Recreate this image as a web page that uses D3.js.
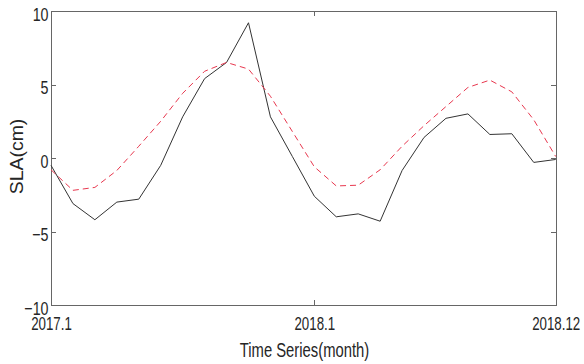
<!DOCTYPE html>
<meta charset="utf-8">
<html>
  <head>
    <style>
      body { margin: 0; background: #fff; }
      text.lbl {
        font-family: "Liberation Sans", Arial, sans-serif;
        fill: #262626;
      }
      .axis path, .axis line { stroke: #666; stroke-width: 1px; shape-rendering: crispEdges; }
    </style>
    <script src="https://cdn.jsdelivr.net/npm/d3@7"></script>
  </head>
  <body>
    <div id="chart"></div>
    <script>
      // month index 0..23 = 2017.1 .. 2018.12
      var tickIdx = [0, 12, 23];
      var tickLabels = ["2017.1", "2018.1", "2018.12"];
      var yTicks = [-10, -5, 0, 5, 10];
      // solid black series
      var sla = [-0.5, -3.1, -4.2, -3.0, -2.8, -0.5, 2.8, 5.4, 6.5, 9.2, 2.8, 0.1,
                 -2.6, -4.0, -3.8, -4.3, -0.85, 1.4, 2.7, 3.0, 1.6, 1.65, -0.3, -0.1];
      // red dashed series
      var fit = [-0.8, -2.2, -2.0, -0.85, 0.8, 2.5, 4.4, 5.9, 6.5, 6.05, 4.2, 1.8,
                 -0.6, -1.9, -1.85, -0.8, 0.8, 2.2, 3.5, 4.8, 5.3, 4.5, 2.6, 0.1];

      var W = 584, H = 364,
          pLeft = 51, pRight = 555.7, pTop = 11, pBottom = 305;

      var svg = d3.select("#chart").append("svg")
          .attr("width", W).attr("height", H);

      var x = d3.scaleLinear().domain([0, 23]).range([pLeft, pRight]);
      var y = d3.scaleLinear().domain([-10, 10]).range([pBottom, pTop]);

      // squeeze text horizontally like the narrow original font
      function squeeze(sel, k) {
        sel.each(function() {
          var len = this.getComputedTextLength();
          d3.select(this).attr("textLength", len * k).attr("lengthAdjust", "spacingAndGlyphs");
        });
      }

      // axes, ticks pointing inward on all four sides
      var xb = svg.append("g").attr("class", "axis")
          .attr("transform", "translate(0," + pBottom + ")")
          .call(d3.axisBottom(x).tickValues(tickIdx).tickSizeInner(-5).tickSizeOuter(0)
                .tickFormat(function(d, i) { return tickLabels[i]; }));
      svg.append("g").attr("class", "axis")
          .attr("transform", "translate(0," + pTop + ")")
          .call(d3.axisTop(x).tickValues(tickIdx).tickSizeInner(-5).tickSizeOuter(0).tickFormat(""));
      var yl = svg.append("g").attr("class", "axis")
          .attr("transform", "translate(" + pLeft + ",0)")
          .call(d3.axisLeft(y).tickValues(yTicks).tickSizeInner(-5).tickSizeOuter(0));
      svg.append("g").attr("class", "axis")
          .attr("transform", "translate(" + pRight + ",0)")
          .call(d3.axisRight(y).tickValues(yTicks).tickSizeInner(-5).tickSizeOuter(0).tickFormat(""));

      xb.selectAll("text")
          .attr("class", "lbl").attr("fill", null)
          .attr("y", 25).attr("dy", null)
          .style("font-size", "19px")
          .call(squeeze, 0.7);
      yl.selectAll("text")
          .attr("class", "lbl").attr("fill", null)
          .attr("x", -2.5).attr("dy", null).attr("y", 9)
          .style("font-size", "19px")
          .call(squeeze, 0.75);
      svg.selectAll(".axis .tick line").attr("stroke", "#666");
      svg.selectAll(".axis .domain").attr("stroke", "#666");

      // lines
      var line = d3.line()
          .x(function(d, i) { return x(i); })
          .y(function(d) { return y(d); });

      svg.append("path")
          .datum(sla)
          .attr("d", line)
          .attr("fill", "none")
          .attr("stroke", "#333")
          .attr("stroke-width", 1);

      svg.append("path")
          .datum(fit)
          .attr("d", line)
          .attr("fill", "none")
          .attr("stroke", "#e8384f")
          .attr("stroke-width", 1)
          .attr("stroke-dasharray", "6,4");

      // axis titles
      svg.append("text")
          .attr("class", "lbl")
          .attr("x", 304.5).attr("y", 357)
          .attr("text-anchor", "middle")
          .style("font-size", "20px")
          .text("Time Series(month)")
          .call(squeeze, 0.74);

      svg.append("text")
          .attr("class", "lbl")
          .attr("transform", "translate(23,156.5) rotate(-90)")
          .attr("text-anchor", "middle")
          .style("font-size", "18.5px")
          .text("SLA(cm)")
          .call(squeeze, 1.05);
    </script>
  </body>
</html>
